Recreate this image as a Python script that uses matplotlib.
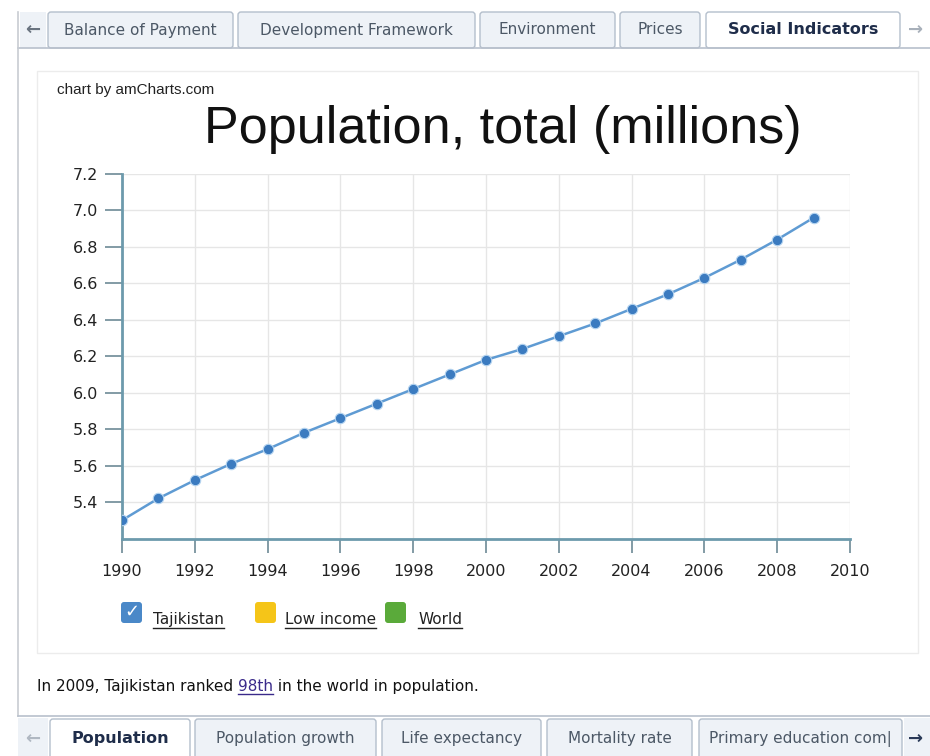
import matplotlib
matplotlib.use("Agg")
import matplotlib.pyplot as plt
from matplotlib.patches import FancyBboxPatch, Rectangle

# data
years = list(range(1990, 2010))
population = [5.30, 5.42, 5.52, 5.61, 5.69, 5.78, 5.86, 5.94, 6.02, 6.10,
              6.18, 6.24, 6.31, 6.38, 6.46, 6.54, 6.63, 6.73, 6.84, 6.96]
top_tabs = ["Balance of Payment", "Development Framework", "Environment", "Prices", "Social Indicators"]
bottom_tabs = ["Population", "Population growth", "Life expectancy", "Mortality rate", "Primary education com|"]
legend_names = ["Tajikistan", "Low income", "World"]
legend_colors = ["#4a88c8", "#f5c518", "#5aaa3a"]
title = "Population, total (millions)"
note = ["In 2009, Tajikistan ranked ", "98th", " in the world in population."]

W, H = 930, 756
fig = plt.figure(figsize=(W / 100, H / 100), dpi=100)
fig.patch.set_facecolor("white")

# pixel overlay for the page furniture
ov = fig.add_axes([0, 0, 1, 1], zorder=0)
ov.set_xlim(0, W)
ov.set_ylim(H, 0)
ov.axis("off")

tab_edge = "#b4bfcc"
tab_fill = "#eef2f7"

def draw_tabs(labels, spans, y0, y1, active, text_y):
    for i, (lab, (xa, xb)) in enumerate(zip(labels, spans)):
        on = i == active
        ov.add_patch(FancyBboxPatch((xa, y0), xb - xa, y1 - y0,
                                    boxstyle="round,pad=0,rounding_size=3",
                                    fc="white" if on else tab_fill, ec=tab_edge, lw=1.0))
        ov.text((xa + xb) / 2, text_y, lab, ha="center", va="center",
                fontsize=11.5 if on else 11, family="DejaVu Sans",
                fontweight="bold" if on else "normal",
                color="#1f2d4a" if on else "#4c5866")

# top tab row
ov.plot([18, W], [48, 48], color="#b8c0cc", lw=1.2)
ov.add_patch(Rectangle((20, 12), 26, 36, fc=tab_fill, ec="none"))
ov.text(33, 30, "\u2190", ha="center", va="center", fontsize=13, color="#6a7480", fontweight="bold")
draw_tabs(top_tabs, [(48, 233), (238, 475), (480, 615), (620, 700), (706, 900)], 12, 48, 4, 30)
ov.text(916, 30, "\u2192", ha="center", va="center", fontsize=13, color="#a8b0ba", fontweight="bold")

# left frame line
ov.plot([18, 18], [12, 716], color="#c8ccd2", lw=1.2)

# chart panel
ov.add_patch(Rectangle((37, 71), 881, 582, fc="white", ec="#ececec", lw=1.0))
ov.text(57, 90, "chart by amCharts.com", ha="left", va="center", fontsize=11,
        family="Liberation Sans", color="#222222")
ov.text(503, 130, title, ha="center", va="center", fontsize=37.5,
        family="Liberation Sans", color="#111111")

# legend
lx = [121, 255, 385]
tx = [153, 285, 418]
for i, (name, col) in enumerate(zip(legend_names, legend_colors)):
    ov.add_patch(FancyBboxPatch((lx[i], 602), 21, 21, boxstyle="round,pad=0,rounding_size=3",
                                fc=col, ec="none"))
    ov.text(tx[i], 624, name, ha="left", va="baseline", fontsize=11,
            family="DejaVu Sans", color="#222222")
    if i == 0:
        ov.text(lx[i] + 10.5, 612, "\u2713", ha="center", va="center", fontsize=13,
                color="white", fontweight="bold")

# note line
ov.text(37, 691, note[0], ha="left", va="baseline", fontsize=11, family="DejaVu Sans", color="#111111")

# bottom tab row
ov.plot([18, W], [716, 716], color="#b8c0cc", lw=1.2)
ov.add_patch(Rectangle((18, 718), 30, 38, fc=tab_fill, ec="none"))
ov.text(33, 739, "\u2190", ha="center", va="center", fontsize=13, color="#b0b8c2", fontweight="bold")
draw_tabs(bottom_tabs, [(50, 190), (195, 376), (382, 541), (547, 692), (699, 902)], 719, 760, 0, 739)
ov.add_patch(Rectangle((904, 718), 26, 38, fc=tab_fill, ec="none"))
ov.text(916, 739, "\u2192", ha="center", va="center", fontsize=13, color="#2a3a58", fontweight="bold")

# chart axes
ax = fig.add_axes([122 / W, 1 - 538.5 / H, (850 - 122) / W, (538.5 - 174) / H], zorder=1)
ax.set_facecolor("none")
ax.plot(years, population, color="#5f9bd3", lw=1.8, zorder=3, solid_capstyle="round")
ax.plot(years, population, ls="none", marker="o", ms=7.5, mfc="#3b7bc0", mec="#b5d4f0",
        mew=0.8, zorder=4)
ax.set_xlim(1990, 2010)
ax.set_ylim(5.2, 7.2)
ax.set_xticks(range(1990, 2011, 2))
ax.set_yticks([5.4, 5.6, 5.8, 6.0, 6.2, 6.4, 6.6, 6.8, 7.0, 7.2])
ax.set_yticklabels([f"{v:.1f}" for v in ax.get_yticks()])
ax.grid(True, color="#e6e6e6", lw=1.0)
ax.set_axisbelow(True)
for s in ["top", "right"]:
    ax.spines[s].set_visible(False)
for s in ["left", "bottom"]:
    ax.spines[s].set_color("#6d9aac")
    ax.spines[s].set_linewidth(2.0)
ax.tick_params(axis="both", colors="#6d8a96", labelcolor="#222222", labelsize=11.5, width=1.2)
ax.tick_params(axis="y", length=12, pad=5)
ax.tick_params(axis="x", length=10, pad=8)
for lab in ax.get_xticklabels() + ax.get_yticklabels():
    lab.set_family("DejaVu Sans")

# underlines and the linked rank, placed from measured text widths
fig.canvas.draw()
r = fig.canvas.get_renderer()
inv = ov.transData.inverted()
for t in list(ov.texts):
    if t.get_text() in legend_names:
        bb = t.get_window_extent(r)
        (x0, _), (x1, _) = inv.transform([(bb.x0, bb.y0), (bb.x1, bb.y1)])
        ov.plot([x0, x1], [628, 628], color="#222222", lw=1.0)
    if t.get_text() == note[0]:
        bb = t.get_window_extent(r)
        x1 = inv.transform([(bb.x1, bb.y0)])[0][0]
        t2 = ov.text(x1, 691, note[1], ha="left", va="baseline", fontsize=11,
                     family="DejaVu Sans", color="#3a2a8a")
        bb2 = t2.get_window_extent(r)
        x2 = inv.transform([(bb2.x1, bb2.y0)])[0][0]
        ov.plot([x1, x2], [694, 694], color="#3a2a8a", lw=1.0)
        ov.text(x2, 691, note[2], ha="left", va="baseline", fontsize=11,
                family="DejaVu Sans", color="#111111")

fig.savefig("out.png", dpi=100)
